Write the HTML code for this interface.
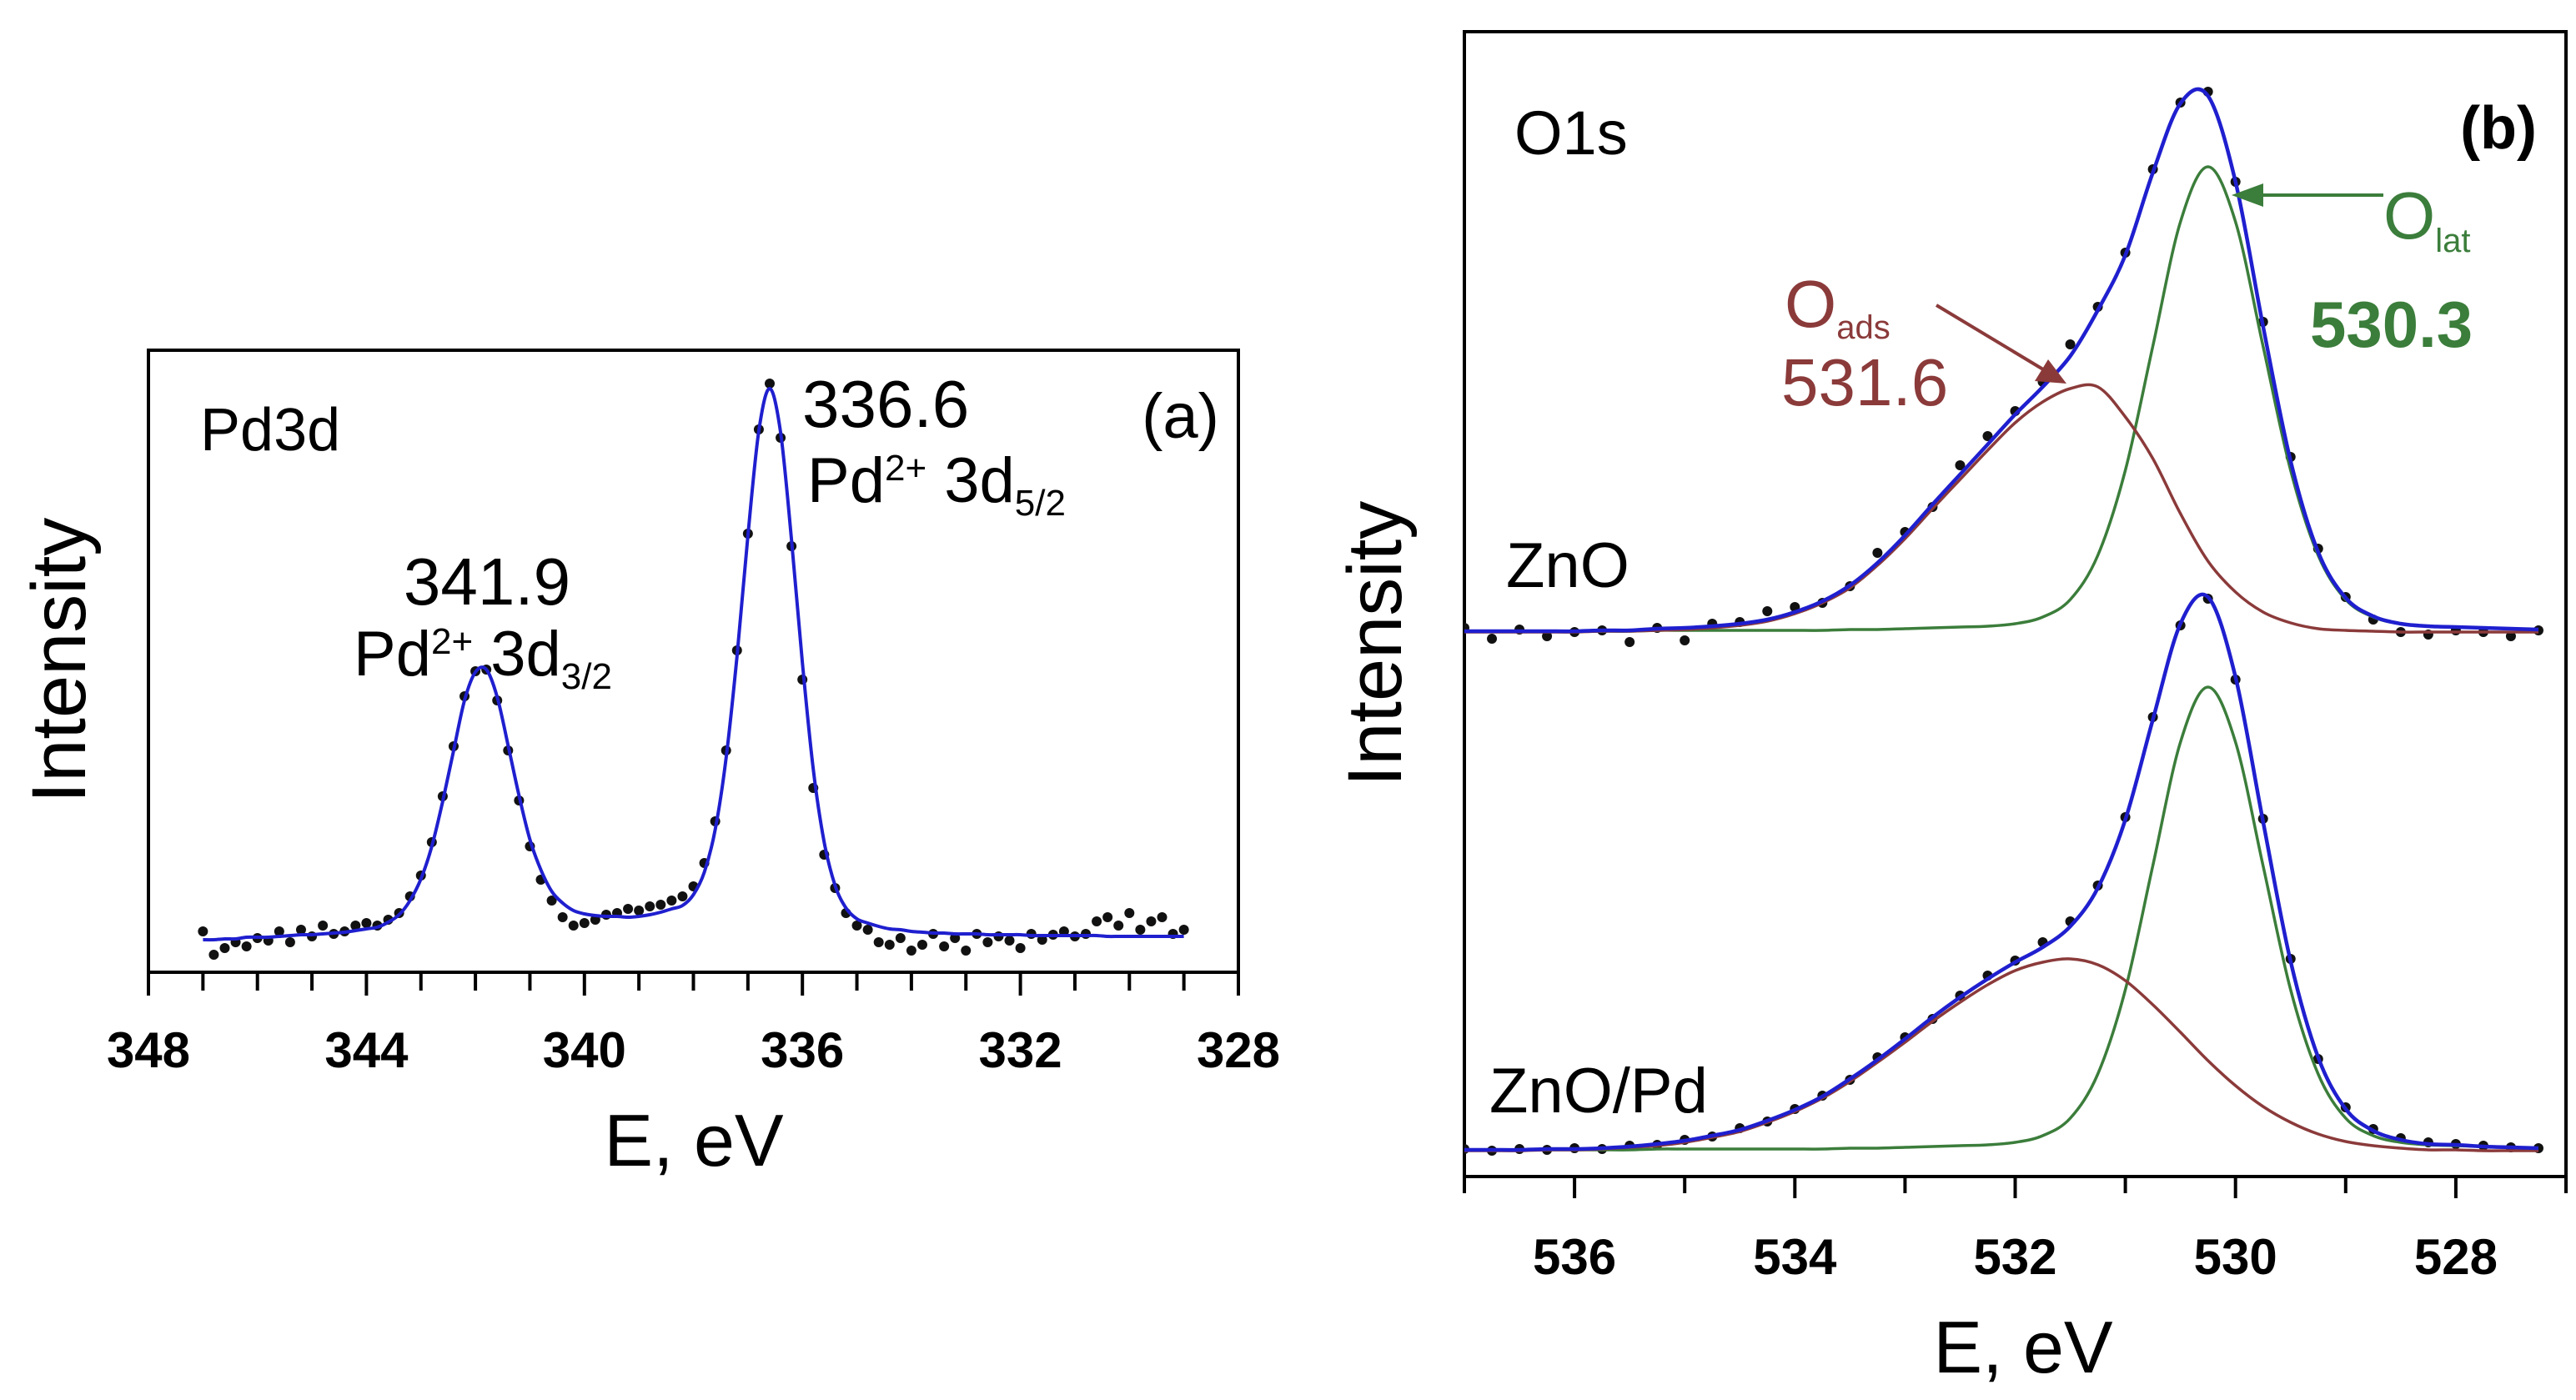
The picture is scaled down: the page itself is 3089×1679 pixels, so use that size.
<!DOCTYPE html>
<html><head><meta charset="utf-8"><style>
html,body{margin:0;padding:0;background:#fff;}
svg{display:block;font-family:"Liberation Sans",Arial,sans-serif;}
</style></head><body>
<svg id="fig" width="3089" height="1679" viewBox="0 0 3089 1679" xmlns="http://www.w3.org/2000/svg">
<rect width="3089" height="1679" fill="#fff"/>
<g id="pa"></g>
<g id="pb"></g>
</svg>
<script>
// ---------- Panel (a) data ----------
const aStartE = 347.0, aStepE = -0.2;
const aFit = [-2,-2,-1,-1,1,1,1,2,3,4,4,5,6,7,9,11,13,19,28,45,71,110,164,225,285,319,322,289,231,171,118,82,56,42,33,29,27,26,26,25,26,28,31,35,39,52,79,130,216,338,483,608,659,606,478,330,202,115,63,36,23,18,14,11,10,8,7,6,6,5,5,5,4,4,4,4,3,3,3,3,3,3,3,2,2,2,2,2,2,2,2];
const aDots = [8,-20,-12,-5,-10,0,-3,8,-5,10,2,15,5,8,15,18,15,22,30,50,75,115,170,230,290,320,322,285,225,165,110,70,45,25,15,18,22,28,30,35,33,38,40,45,50,62,90,140,225,345,485,610,665,600,470,310,180,100,60,30,15,10,-5,-8,0,-15,-8,5,-10,0,-15,5,-5,2,-3,-12,5,-2,4,8,2,5,20,25,15,30,10,20,25,5,10];
const aTickLabels = ["348","344","340","336","332","328"];
const aTickValues = [348,344,340,336,332,328];

// ---------- Panel (b) data ----------
const bStartE = 537.0, bStepE = -0.25;
const bGreenUp = [1,1,1,1,1,1,1,2,2,2,2,2,2,2,3,3,4,5,6,7,10,18,39,92,194,343,492,558,492,343,194,92,39,18,10,7,6,5,4,3];
const bBrownUp = [0,0,0,0,0,1,1,2,3,5,8,13,22,35,53,80,112,148,183,218,251,276,292,294,258,208,142,85,48,24,11,4,2,1,0,0,0,0,0,0];
const bDotsUp = [5,-8,3,-5,0,2,-12,5,-10,10,12,25,30,35,55,95,120,150,200,235,265,300,345,390,455,555,635,648,540,372,210,100,42,15,0,-3,2,0,-5,2];
const bGreenLow = [1,1,1,1,1,1,1,2,2,2,2,2,2,2,3,3,4,5,6,7,10,18,39,92,193,342,490,556,490,342,193,92,39,18,10,7,6,5,4,3];
const bBrownLow = [0,0,0,1,1,2,4,6,10,16,23,34,47,63,83,106,130,155,178,199,216,226,230,223,204,175,142,108,78,53,34,20,11,6,3,1,1,0,0,0];
const bDotsLow = [2,0,2,1,3,2,6,7,13,17,27,35,50,66,85,112,136,158,186,210,228,250,275,318,400,520,630,662,565,398,230,110,52,26,15,10,8,6,4,3];
const bTickLabels = ["536","534","532","530","528"];
const bTickValues = [536,534,532,530,528];

const NS = "http://www.w3.org/2000/svg";
function mk(parent, tag, attrs){ const e=document.createElementNS(NS,tag); for(const k in attrs) e.setAttribute(k,attrs[k]); parent.appendChild(e); return e; }
function smoothPath(pts){
  let d="M"+pts[0][0].toFixed(1)+","+pts[0][1].toFixed(1);
  for(let i=0;i<pts.length-1;i++){
    const p0=pts[i-1]||pts[i], p1=pts[i], p2=pts[i+1], p3=pts[i+2]||pts[i+1];
    const c1x=p1[0]+(p2[0]-p0[0])/6, c1y=p1[1]+(p2[1]-p0[1])/6;
    const c2x=p2[0]-(p3[0]-p1[0])/6, c2y=p2[1]-(p3[1]-p1[1])/6;
    d+=" C"+c1x.toFixed(1)+","+c1y.toFixed(1)+" "+c2x.toFixed(1)+","+c2y.toFixed(1)+" "+p2[0].toFixed(1)+","+p2[1].toFixed(1);
  }
  return d;
}

// ---------- Panel (a) ----------
(function(){
  const g=document.getElementById('pa');
  const L=178,R=1485,T=420,B=1166, base=1125;
  const xA=e=>L+(348-e)/20*(R-L);
  const yA=v=>base-v;
  const fr=mk(g,'rect',{x:L,y:T,width:R-L,height:B-T,fill:'none',stroke:'#000','stroke-width':4});
   
  for(let e=348;e>=328;e--){
    const major=(e%4===0);
    const t=mk(g,'line',{x1:xA(e),x2:xA(e),y1:B,y2:B+(major?28:22),stroke:'#000','stroke-width':4});
     
  }
  aTickValues.forEach((v,i)=>{
    const t=mk(g,'text',{x:xA(v),y:1280,'text-anchor':'middle','font-size':60,'font-weight':'bold'});
    t.textContent=aTickLabels[i];
     
  });
  const xt=mk(g,'text',{x:832,y:1398,'text-anchor':'middle','font-size':88}); xt.textContent='E, eV';
   
  const yt=mk(g,'text',{x:0,y:0,'text-anchor':'middle','font-size':92,transform:'translate(102,792) rotate(-90)'}); yt.textContent='Intensity';
   
  const dg=mk(g,'g',{fill:'#111'});  
  aDots.forEach((v,i)=>{
    const c=mk(dg,'circle',{cx:xA(aStartE+aStepE*i),cy:yA(v),r:6});
     
  });
  const fp=mk(g,'path',{d:smoothPath(aFit.map((v,i)=>[xA(aStartE+aStepE*i),yA(v)])),fill:'none',stroke:'#1f1fcf','stroke-width':4});
   
  const txt=(x,y,s,name,anchor,size,extra)=>{const t=mk(g,'text',Object.assign({x:x,y:y,'font-size':size||72,'text-anchor':anchor||'start'},extra||{})); t.innerHTML=s;   return t;};
  txt(240,540,'Pd3d','label-pd3d');
  txt(1462,525,'(a)','label-a','end',76);
  txt(962,512,'336.6','peak-336-6','start',80);
  txt(968,602,'Pd<tspan font-size="44" dy="-26">2+</tspan><tspan dy="26"> 3d</tspan><tspan font-size="44" dy="16">5/2</tspan>','label-pd-3d52','start',76);
  txt(584,725,'341.9','peak-341-9','middle',80);
  txt(424,810,'Pd<tspan font-size="44" dy="-26">2+</tspan><tspan dy="26"> 3d</tspan><tspan font-size="44" dy="16">3/2</tspan>','label-pd-3d32','start',76);
})();

// ---------- Panel (b) ----------
(function(){
  const g=document.getElementById('pb');
  const L=1756,R=3077,T=38,B=1411, baseUp=758, baseLow=1380;
  const xB=e=>L+(537-e)/10*(R-L);
  const clip=mk(g,'clipPath',{id:'clipb'}); mk(clip,'rect',{x:L,y:T,width:R-L,height:B-T});
  const fr=mk(g,'rect',{x:L,y:T,width:R-L,height:B-T,fill:'none',stroke:'#000','stroke-width':4});
   
  for(let e=537;e>=527;e--){
    const major=(e%2===0);
    const t=mk(g,'line',{x1:xB(e),x2:xB(e),y1:B,y2:B+(major?26:20),stroke:'#000','stroke-width':4});
     
  }
  bTickValues.forEach((v,i)=>{
    const t=mk(g,'text',{x:xB(v),y:1528,'text-anchor':'middle','font-size':60,'font-weight':'bold'});
    t.textContent=bTickLabels[i];
     
  });
  const xt=mk(g,'text',{x:2426,y:1646,'text-anchor':'middle','font-size':88}); xt.textContent='E, eV';
   
  const yt=mk(g,'text',{x:0,y:0,'text-anchor':'middle','font-size':92,transform:'translate(1680,772) rotate(-90)'}); yt.textContent='Intensity';
   
  const pg=mk(g,'g',{'clip-path':'url(#clipb)'});
  function spectrum(base,green,brown,dots,tag){
    const yv=v=>base-v;
    const ptsOf=arr=>arr.map((v,i)=>[xB(bStartE+bStepE*i),yv(v)]);
    const total=green.map((v,i)=>v+brown[i]);
    const dg=mk(pg,'g',{fill:'#111'});  
    dots.forEach((v,i)=>{const c=mk(dg,'circle',{cx:xB(bStartE+bStepE*i),cy:yv(v),r:6});
       });
    const gp=mk(pg,'path',{d:smoothPath(ptsOf(green)),fill:'none',stroke:'#3b7d3b','stroke-width':3.5});
     
    const bp=mk(pg,'path',{d:smoothPath(ptsOf(brown)),fill:'none',stroke:'#8b3a3a','stroke-width':3.5});
     
    const tp=mk(pg,'path',{d:smoothPath(ptsOf(total)),fill:'none',stroke:'#1f1fcf','stroke-width':4.5});
     
  }
  spectrum(baseUp,bGreenUp,bBrownUp,bDotsUp,'zno');
  spectrum(baseLow,bGreenLow,bBrownLow,bDotsLow,'zno-pd');
  const txt=(x,y,s,name,anchor,size,extra)=>{const t=mk(g,'text',Object.assign({x:x,y:y,'font-size':size||72,'text-anchor':anchor||'start'},extra||{})); t.innerHTML=s;   return t;};
  txt(1816,185,'O1s','label-o1s',null,74);
  txt(3042,178,'(b)','label-b','end',72,{'font-weight':'bold'});
  txt(1806,704,'ZnO','label-zno',null,76);
  txt(1786,1334,'ZnO/Pd','label-zno-pd',null,76);
  txt(2140,392,'O<tspan font-size="40" dy="14">ads</tspan>','label-o-ads','start',80,{fill:'#8b3a3a'});
  txt(2136,486,'531.6','label-531-6','start',80,{fill:'#8b3a3a'});
  txt(2858,286,'O<tspan font-size="40" dy="16">lat</tspan>','label-o-lat','start',80,{fill:'#3b7d3b'});
  txt(2770,416,'530.3','label-530-3','start',78,{fill:'#3b7d3b','font-weight':'bold'});
  const a1=mk(g,'line',{x1:2322,y1:366,x2:2450,y2:443,stroke:'#8b3a3a','stroke-width':4});
   
  mk(g,'polygon',{points:'2478,460 2440,457 2456,431',fill:'#8b3a3a'});
  const a2=mk(g,'line',{x1:2858,y1:234,x2:2710,y2:234,stroke:'#3b7d3b','stroke-width':4});
   
  mk(g,'polygon',{points:'2676,234 2714,220 2714,248',fill:'#3b7d3b'});
})();
</script>
</body></html>
